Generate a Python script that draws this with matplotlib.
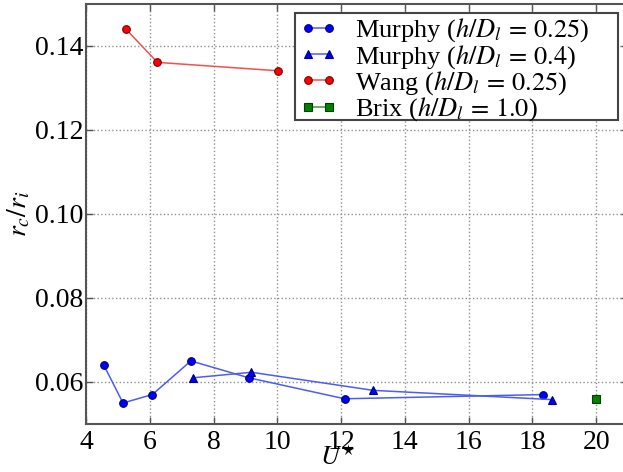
import matplotlib
matplotlib.use("Agg")
import matplotlib.pyplot as plt
from matplotlib.patches import Rectangle

# Data
murphy25_x = [4.56, 5.16, 6.08, 7.29, 9.10, 12.11, 18.33]
murphy25_y = [0.064, 0.055, 0.057, 0.065, 0.061, 0.056, 0.057]
murphy40_x = [7.37, 9.19, 13.01, 18.62]
murphy40_y = [0.061, 0.0623, 0.058, 0.0558]
wang_x = [5.24, 6.24, 10.02]
wang_y = [0.144, 0.136, 0.134]
brix_x = [20.0]
brix_y = [0.056]

labels = [r"Murphy ($h/D_l\,=\,0.25$)", r"Murphy ($h/D_l\,=\,0.4$)",
          r"Wang ($h/D_l\,=\,0.25$)", r"Brix ($h/D_l\,=\,1.0$)"]
xticks = [4, 6, 8, 10, 12, 14, 16, 18, 20]
yticks = [0.06, 0.08, 0.10, 0.12, 0.14]
ytick_labels = ["0.06", "0.08", "0.10", "0.12", "0.14"]

plt.rcParams['font.family'] = ['Liberation Serif', 'DejaVu Serif']
plt.rcParams['mathtext.fontset'] = 'stix'

fig = plt.figure(figsize=(6.23, 4.72), dpi=100)
W, H = 623, 472
left, right, top, bottom = 86, 628, 3.5, 424
ax = fig.add_axes([left / W, 1 - bottom / H, (right - left) / W, (bottom - top) / H])

common = dict(linewidth=1.1, markersize=5.5, markeredgewidth=0.8)
ax.plot(murphy25_x, murphy25_y, marker='o', color='#4d5cf5', mfc='#0000ff', mec='#00007a', label=labels[0], **common)
ax.plot(murphy40_x, murphy40_y, marker='^', color='#4d5cf5', mfc='#0000ff', mec='#00007a', label=labels[1], **common)
ax.plot(wang_x, wang_y, marker='o', color='#f05050', mfc='#ff0000', mec='#7a0000', label=labels[2], **common)
ax.plot(brix_x, brix_y, marker='s', color='#3a9a3a', mfc='#008000', mec='#003d00', label=labels[3], **common)

ax.set_xlim(4, 21)
ax.set_ylim(0.05, 0.15)
ax.set_xticks(xticks)
ax.set_yticks(yticks)
ax.set_yticklabels(ytick_labels)
ax.tick_params(direction='in', top=True, right=True, labelsize=20,
               length=5, width=1.0, color='#555555')
ax.tick_params(axis='x', pad=4)
ax.tick_params(axis='y', pad=2)
ax.grid(True, linestyle=':', color='#909090', linewidth=1.0)
for s in ax.spines.values():
    s.set_color('#555555')
    s.set_linewidth(1.5)

ax.set_xlabel(r"$U^{\star}$", fontsize=19)
ax.xaxis.set_label_coords(0.465, -0.05)
ax.set_ylabel(r"$r_c/r_i$", fontsize=20, labelpad=2)

# legend frame drawn as a separate box (wider than the entries, as in the reference)
frame = Rectangle((295 / W, 1 - 120 / H), 323 / W, 107 / H, transform=fig.transFigure,
                  facecolor='white', edgecolor='#444444', linewidth=1.5,
                  zorder=4.5, clip_on=False)
ax.add_patch(frame)

leg = ax.legend(loc='upper left', bbox_to_anchor=(297 / W, 1 - 14 / H),
                bbox_transform=fig.transFigure, borderaxespad=0, numpoints=2,
                fontsize=19, handlelength=1.4, handletextpad=0.7,
                labelspacing=-0.06, borderpad=0.1, frameon=False)
leg.set_zorder(5)

fig.savefig("out.png", dpi=100)
